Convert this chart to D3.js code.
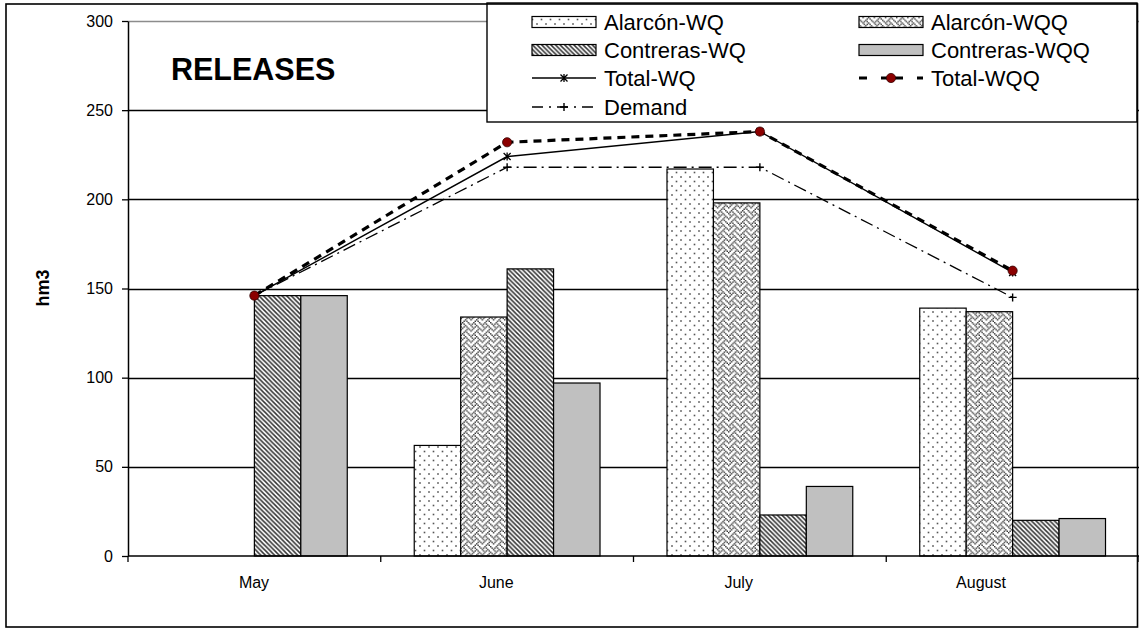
<!DOCTYPE html>
<html>
<head>
<meta charset="utf-8">
<script src="https://cdn.jsdelivr.net/npm/d3@7"></script>
<style>
  body { margin: 0; background: #fff; }
  svg { display: block; }
  text { font-family: "Liberation Sans", Arial, sans-serif; fill: #000; }
</style>
</head>
<body>
<svg id="chart" width="1139" height="628"></svg>
<script>
// Monthly releases (hm3)
const months = ["May", "June", "July", "August"];
const alarconWQ    = [0, 62, 217, 139];
const alarconWQQ   = [0, 134, 198, 137];
const contrerasWQ  = [146, 161, 23, 20];
const contrerasWQQ = [146, 97, 39, 21];
const totalWQ      = [146, 224, 238, 159];
const totalWQQ     = [146, 232, 238, 160];
const demand       = [146, 218, 218, 145];
const yTicks = [0, 50, 100, 150, 200, 250, 300];

const barSeries = [
  { name: "Alarcón-WQ",    values: alarconWQ,    fill: "url(#pDots)" },
  { name: "Alarcón-WQQ",   values: alarconWQQ,   fill: "url(#pWeave)" },
  { name: "Contreras-WQ",  values: contrerasWQ,  fill: "url(#pDiag)" },
  { name: "Contreras-WQQ", values: contrerasWQQ, fill: "#c0c0c0" }
];

const svg = d3.select("#chart");
const defs = svg.append("defs");
const plot = { left: 128, right: 1139, top: 21, bottom: 556 };

function tile(id, size) {
  const p = defs.append("pattern").attr("id", id)
    .attr("patternUnits", "userSpaceOnUse")
    .attr("width", size).attr("height", size);
  p.append("rect").attr("width", size).attr("height", size).attr("fill", "#fff");
  return p;
}

// Sparse staggered dots
const pd = tile("pDots", 9);
[[1.5, 1.5], [6, 6]].forEach(([px, py]) =>
  pd.append("rect").attr("x", px - 0.8).attr("y", py - 0.8).attr("width", 1.6).attr("height", 1.6).attr("fill", "#555"));

// Downward diagonal stripes
const pg = tile("pDiag", 4.6);
pg.append("path").attr("d", "M-1,-1L5.6,5.6M-1,3.6L1,5.6M3.6,-1L5.6,1")
  .attr("stroke", "#333").attr("stroke-width", 1.5);

// Weave: interlocking chevrons from an 8x8 bitmap
const weaveRows = ["88", "54", "22", "45", "88", "14", "22", "51"]
  .map(h => parseInt(h, 16).toString(2).padStart(8, "0"));
const cell = 1.4;
const pw = tile("pWeave", 8 * cell);
weaveRows.forEach((r, j) => r.split("").forEach((b, i) => {
  if (b === "1") pw.append("rect").attr("x", i * cell).attr("y", j * cell)
    .attr("width", cell).attr("height", cell).attr("fill", "#333");
}));

// Scales
const x0 = d3.scaleBand().domain(months).range([plot.left, plot.right])
  .paddingInner(0.265).paddingOuter(0.1325);
const x1 = d3.scaleBand().domain(barSeries.map(s => s.name)).range([0, x0.bandwidth()]);
const y = d3.scaleLinear().domain([0, 300]).range([plot.bottom, plot.top]);
const xLabel = d3.scalePoint().domain(months).range([254, 981]);
const cx = m => x0(m) + x0.bandwidth() / 2;

// Gridlines
svg.append("g").selectAll("line").data(yTicks.filter(d => d > 0)).join("line")
  .attr("x1", plot.left).attr("x2", plot.right)
  .attr("y1", d => Math.round(y(d)) + 0.5).attr("y2", d => Math.round(y(d)) + 0.5)
  .attr("stroke", d => d === 300 ? "#8c8c8c" : "#000").attr("stroke-width", 1.3);

// Bars
const barG = svg.append("g");
barSeries.forEach(s => {
  barG.append("g").selectAll("rect").data(months.map((m, i) => ({ m, v: s.values[i] })).filter(d => d.v > 0))
    .join("rect")
    .attr("x", d => x0(d.m) + x1(s.name))
    .attr("y", d => y(d.v))
    .attr("width", x1.bandwidth())
    .attr("height", d => y(0) - y(d.v))
    .attr("fill", s.fill)
    .attr("stroke", "#000").attr("stroke-width", 1.2);
});

// Y axis
const yAxis = svg.append("g").attr("transform", `translate(${plot.left},0)`)
  .call(d3.axisLeft(y).tickValues(yTicks).tickSize(6).tickPadding(9).tickSizeOuter(0));
yAxis.select(".domain").attr("stroke", "#000").attr("stroke-width", 1.5);
yAxis.selectAll(".tick line").attr("stroke", "#000").attr("stroke-width", 1.3);
yAxis.selectAll(".tick text").attr("font-size", 16).attr("font-family", "Liberation Sans, Arial, sans-serif").attr("fill", "#000");

// X axis: baseline, category separators and month labels
svg.append("line").attr("x1", plot.left).attr("x2", plot.right)
  .attr("y1", y(0)).attr("y2", y(0)).attr("stroke", "#000").attr("stroke-width", 1.5);
const bounds = months.map(m => x0(m) - x0.step() * 0.1325).concat([plot.right]);
svg.append("g").selectAll("line").data(bounds).join("line")
  .attr("x1", d => d).attr("x2", d => d)
  .attr("y1", y(0)).attr("y2", y(0) + 6)
  .attr("stroke", "#000").attr("stroke-width", 1.3);
svg.append("g").selectAll("text").data(months).join("text")
  .attr("x", d => xLabel(d)).attr("y", 588)
  .attr("text-anchor", "middle").attr("font-size", 16)
  .text(d => d);

// Y title
svg.append("text").attr("transform", "translate(49,288) rotate(-90)")
  .attr("text-anchor", "middle").attr("font-size", 18).attr("font-weight", "bold")
  .text("hm3");

// Markers
function asterisk(g, px, py, s) {
  g.append("path").attr("d", `M${px - s},${py - s}L${px + s},${py + s}M${px - s},${py + s}L${px + s},${py - s}M${px},${py - s - 0.5}L${px},${py + s + 0.5}`)
    .attr("stroke", "#000").attr("stroke-width", 1.3).attr("fill", "none");
}
function plus(g, px, py, s) {
  g.append("path").attr("d", `M${px - s},${py}L${px + s},${py}M${px},${py - s}L${px},${py + s}`)
    .attr("stroke", "#000").attr("stroke-width", 1.4).attr("fill", "none");
}
function dot(g, px, py) {
  g.append("circle").attr("cx", px).attr("cy", py).attr("r", 4.6)
    .attr("fill", "#8b0000").attr("stroke", "#300").attr("stroke-width", 0.8);
}

// Lines
const lineGen = vals => d3.line().x((d, i) => cx(months[i])).y(d => y(d))(vals);
const linesG = svg.append("g");
linesG.append("path").attr("d", lineGen(demand)).attr("fill", "none")
  .attr("stroke", "#000").attr("stroke-width", 1.3).attr("stroke-dasharray", "13,5,2,5");
linesG.append("path").attr("d", lineGen(totalWQ)).attr("fill", "none")
  .attr("stroke", "#000").attr("stroke-width", 1.4);
linesG.append("path").attr("d", lineGen(totalWQQ)).attr("fill", "none")
  .attr("stroke", "#000").attr("stroke-width", 3.2).attr("stroke-dasharray", "8,6");
demand.forEach((v, i) => plus(linesG, cx(months[i]), y(v), 4));
totalWQ.forEach((v, i) => asterisk(linesG, cx(months[i]), y(v), 3.5));
totalWQQ.forEach((v, i) => dot(linesG, cx(months[i]), y(v)));

// Title
svg.append("text").attr("x", 171).attr("y", 80)
  .attr("font-size", 30.5).attr("font-weight", "bold").text("RELEASES");

// Legend
const legend = svg.append("g");
legend.append("rect").attr("x", 487).attr("y", 3).attr("width", 650).attr("height", 119)
  .attr("fill", "#fff").attr("stroke", "#000").attr("stroke-width", 1.4);
const legendItems = [
  { name: "Alarcón-WQ",    kind: "bar", fill: "url(#pDots)",  col: 0, row: 0 },
  { name: "Alarcón-WQQ",   kind: "bar", fill: "url(#pWeave)", col: 1, row: 0 },
  { name: "Contreras-WQ",  kind: "bar", fill: "url(#pDiag)",  col: 0, row: 1 },
  { name: "Contreras-WQQ", kind: "bar", fill: "#c0c0c0",      col: 1, row: 1 },
  { name: "Total-WQ",      kind: "wq",  col: 0, row: 2 },
  { name: "Total-WQQ",     kind: "wqq", col: 1, row: 2 },
  { name: "Demand",        kind: "dem", col: 0, row: 3 }
];
const colX = [532, 859], rowY = [22, 50, 78, 107], sw = 64;
legendItems.forEach(it => {
  const lx = colX[it.col], ly = rowY[it.row];
  if (it.kind === "bar") {
    legend.append("rect").attr("x", lx).attr("y", ly - 5.5).attr("width", sw).attr("height", 11)
      .attr("fill", it.fill).attr("stroke", "#000").attr("stroke-width", 1.2);
  } else if (it.kind === "wq") {
    legend.append("line").attr("x1", lx).attr("x2", lx + sw).attr("y1", ly).attr("y2", ly)
      .attr("stroke", "#000").attr("stroke-width", 1.4);
    asterisk(legend, lx + sw / 2, ly, 3.5);
  } else if (it.kind === "wqq") {
    legend.append("line").attr("x1", lx).attr("x2", lx + sw).attr("y1", ly).attr("y2", ly)
      .attr("stroke", "#000").attr("stroke-width", 3.2).attr("stroke-dasharray", "8,14,11,3");
    dot(legend, lx + sw / 2, ly);
  } else {
    legend.append("line").attr("x1", lx).attr("x2", lx + sw).attr("y1", ly).attr("y2", ly)
      .attr("stroke", "#000").attr("stroke-width", 1.3).attr("stroke-dasharray", "11,6,2,6");
    plus(legend, lx + sw / 2, ly, 4);
  }
  legend.append("text").attr("x", lx + sw + 8).attr("y", ly + 7.8)
    .attr("font-size", 22).text(it.name);
});

// Chart frame
svg.append("rect").attr("x", 6).attr("y", 4).attr("width", 1131.5).attr("height", 623)
  .attr("fill", "none").attr("stroke", "#000").attr("stroke-width", 1.6);
</script>
</body>
</html>
